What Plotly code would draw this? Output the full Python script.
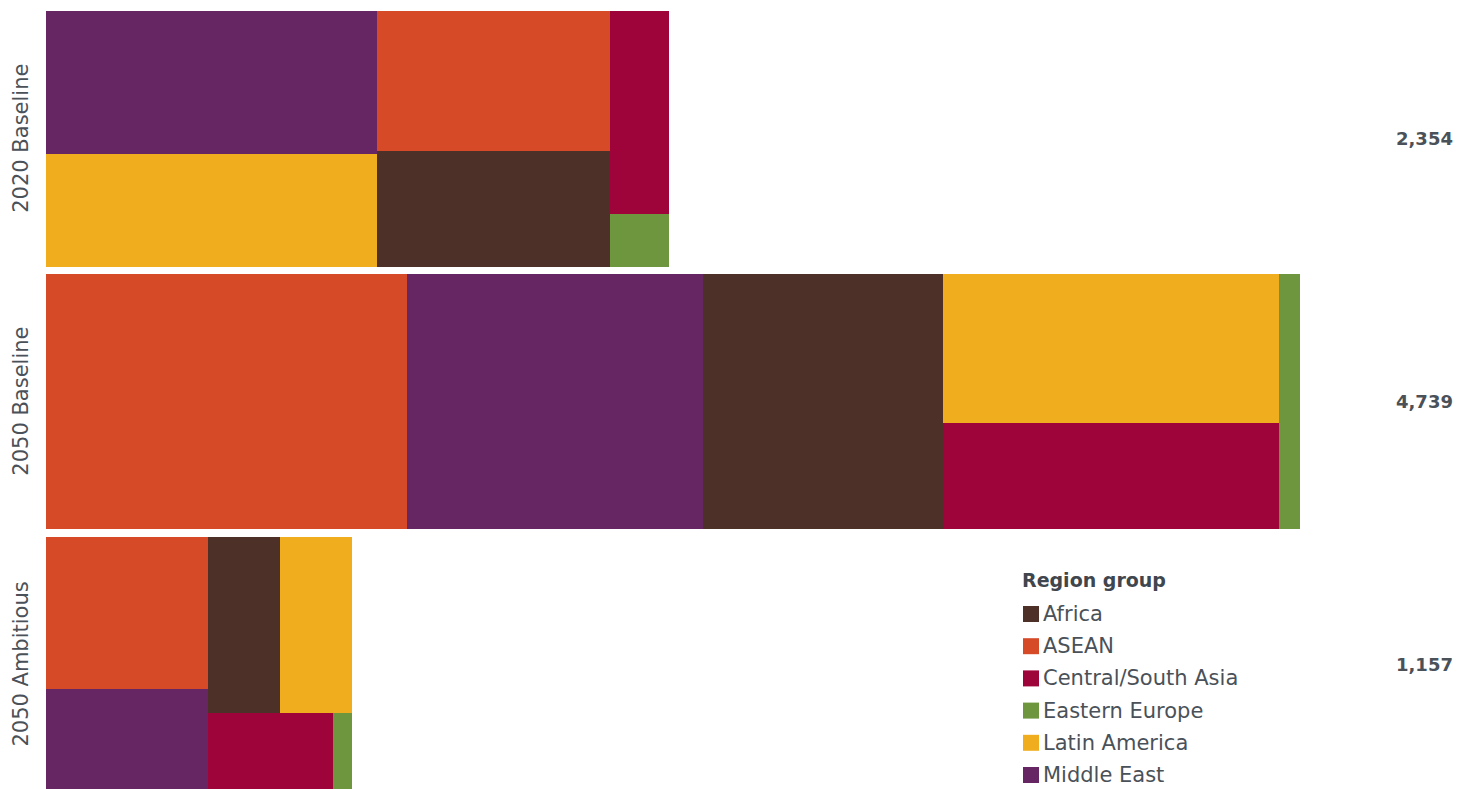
import plotly.graph_objects as go

# ---------------- data ----------------
scenarios = ["2020 Baseline", "2050 Baseline", "2050 Ambitious"]
total_labels = ["2,354", "4,739", "1,157"]

regions = ["Africa", "ASEAN", "Central/South Asia", "Eastern Europe", "Latin America", "Middle East"]
region_colors = ["#4d3128", "#d64a28", "#9e0339", "#6e963e", "#f0ae1e", "#652663"]

africa = [399, 908, 188]
asean = [481, 1364, 365]
central_south_asia = [177, 530, 146]
eastern_europe = [46, 79, 23]
latin_america = [552, 739, 187]
middle_east = [699, 1119, 248]

series = [africa, asean, central_south_asia, eastern_europe, latin_america, middle_east]

# ---------------- layout constants ----------------
W, H = 1457, 789
M_L, M_R, M_T, M_B = 46, 157, 11, 0
PLOT_W = W - M_L - M_R
PLOT_H = H - M_T - M_B
ROW_H = 1.0
GAP = 0.029
Y_MAX = PLOT_H / 255.5

totals = [sum(s[i] for s in series) for i in range(len(scenarios))]
X_MAX = max(totals)
PX_PER_X = PLOT_W / X_MAX
PX_PER_Y = PLOT_H / Y_MAX
PHI = (1 + 5 ** 0.5) / 2


def squarify(values, x0, y0, x1, y1, ratio=PHI):
    """Port of d3-hierarchy treemapSquarify (values sorted descending)."""
    n = len(values)
    out = [None] * n
    value = float(sum(values))
    i0 = i1 = 0
    while i0 < n:
        dx, dy = x1 - x0, y1 - y0
        sum_v = values[i1]
        i1 += 1
        min_v = max_v = sum_v
        alpha = max(dy / dx, dx / dy) / (value * ratio)
        beta = sum_v * sum_v * alpha
        min_ratio = max(max_v / beta, beta / min_v)
        while i1 < n:
            nv = values[i1]
            s = sum_v + nv
            mn, mx = min(min_v, nv), max(max_v, nv)
            beta = s * s * alpha
            new_ratio = max(mx / beta, beta / mn)
            if new_ratio > min_ratio:
                break
            sum_v, min_v, max_v, min_ratio = s, mn, mx, new_ratio
            i1 += 1
        row = list(range(i0, i1))
        if dx < dy:
            ny = y0 + dy * sum_v / value
            cx = x0
            for j in row:
                w = (x1 - x0) * values[j] / sum_v
                out[j] = (cx, y0, cx + w, ny)
                cx += w
            y0 = ny
        else:
            nx = x0 + dx * sum_v / value
            cy = y0
            for j in row:
                h = (y1 - y0) * values[j] / sum_v
                out[j] = (x0, cy, nx, cy + h)
                cy += h
            x0 = nx
        value -= sum_v
        i0 = i1
    return out


# compute rectangles per region
rects = {r: [] for r in regions}
row_centers = []
for si in range(len(scenarios)):
    top = si * (ROW_H + GAP)
    row_centers.append(top + ROW_H / 2)
    vals = [(series[ri][si], ri) for ri in range(len(regions))]
    vals.sort(key=lambda t: -t[0])
    px_rects = squarify([v for v, _ in vals], 0, 0, totals[si] * PX_PER_X, ROW_H * PX_PER_Y)
    for (v, ri), (a, b, c, d) in zip(vals, px_rects):
        rects[regions[ri]].append((a / PX_PER_X, top + b / PX_PER_Y, c / PX_PER_X, top + d / PX_PER_Y, v, scenarios[si]))

fig = go.Figure()
for ri, r in enumerate(regions):
    rs = rects[r]
    fig.add_trace(go.Bar(
        orientation="h",
        name=r,
        base=[q[0] for q in rs],
        x=[q[2] - q[0] for q in rs],
        y=[(q[1] + q[3]) / 2 for q in rs],
        width=[q[3] - q[1] for q in rs],
        marker=dict(color=region_colors[ri], line=dict(width=0)),
        customdata=[[q[5], q[4]] for q in rs],
        hovertemplate="%{customdata[0]}<br>" + r + ": %{customdata[1]:,}<extra></extra>",
        showlegend=False,
    ))

TEXT_COLOR = "#4a5158"
FONT = "DejaVu Sans"


def px_to_paper_x(px):
    return (px - M_L) / PLOT_W


def px_to_paper_y(py):
    return (H - M_B - py) / PLOT_H


annotations = []
for si, name in enumerate(scenarios):
    annotations.append(dict(
        text=name, xref="paper", yref="y", x=px_to_paper_x(21), y=row_centers[si],
        textangle=-90, showarrow=False, xanchor="center", yanchor="middle",
        font=dict(family=FONT, size=21, color=TEXT_COLOR),
    ))
    annotations.append(dict(
        text=total_labels[si], xref="paper", yref="y", x=px_to_paper_x(1455), y=row_centers[si],
        showarrow=False, xanchor="right", yanchor="middle",
        font=dict(family=FONT, size=18, color=TEXT_COLOR, weight="bold"),
    ))

# legend (manual)
LEG_X = 1022
LEG_TITLE_Y = 580
LEG_FIRST_Y = 614
LEG_STEP = 32.2
SQ = 16
annotations.append(dict(
    text="Region group", xref="paper", yref="paper", x=px_to_paper_x(LEG_X - 2), y=px_to_paper_y(LEG_TITLE_Y),
    showarrow=False, xanchor="left", yanchor="middle",
    font=dict(family=FONT, size=19, color="#3f464d", weight="bold"),
))
shapes = []
for ri, r in enumerate(regions):
    cy = LEG_FIRST_Y + ri * LEG_STEP
    shapes.append(dict(
        type="rect", xref="paper", yref="paper",
        x0=px_to_paper_x(LEG_X + 1), x1=px_to_paper_x(LEG_X + 1 + SQ),
        y0=px_to_paper_y(cy + SQ / 2), y1=px_to_paper_y(cy - SQ / 2),
        fillcolor=region_colors[ri], line=dict(width=0),
    ))
    annotations.append(dict(
        text=r, xref="paper", yref="paper", x=px_to_paper_x(LEG_X + 20), y=px_to_paper_y(cy),
        showarrow=False, xanchor="left", yanchor="middle", borderpad=0,
        font=dict(family=FONT, size=21, color=TEXT_COLOR),
    ))

fig.update_layout(
    width=W, height=H,
    margin=dict(l=M_L, r=M_R, t=M_T, b=M_B, pad=0),
    paper_bgcolor="white", plot_bgcolor="white",
    barmode="overlay", bargap=0,
    showlegend=False,
    xaxis=dict(range=[0, X_MAX], visible=False, fixedrange=True),
    yaxis=dict(range=[Y_MAX, 0], visible=False, fixedrange=True),
    annotations=annotations,
    shapes=shapes,
)

fig.write_html("out.html")
